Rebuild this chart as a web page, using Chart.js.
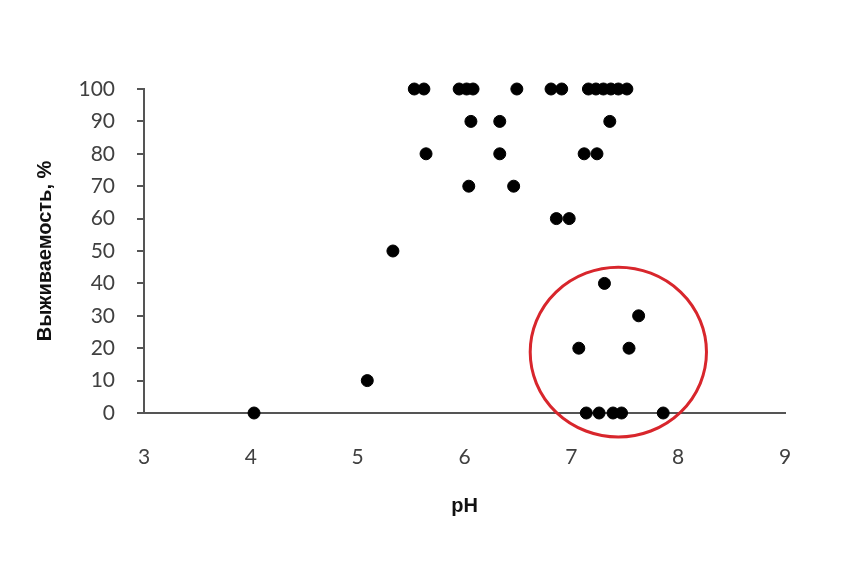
<!DOCTYPE html>
<html>
<head>
<meta charset="utf-8">
<script src="https://cdn.jsdelivr.net/npm/chart.js@4"></script>
<style>
  html, body { margin: 0; padding: 0; background: #fff; }
  #wrap { width: 844px; height: 565px; }
</style>
</head>
<body>
<div id="wrap"><canvas id="chart" width="844" height="565"></canvas></div>
<script>
// Data
const phValues = [
    5.53, 5.62, 5.95, 6.02, 6.08, 6.49, 6.81, 6.91, 7.16, 7.23, 7.30, 7.37, 7.44, 7.52,
    6.06, 6.33, 7.36,
    5.64, 6.33, 7.12, 7.24,
    6.04, 6.46,
    6.86, 6.98,
    5.33,
    7.31,
    7.63,
    7.07, 7.54,
    5.09,
    4.03, 7.14, 7.26, 7.39, 7.47, 7.86
];
const survival = [
    100, 100, 100, 100, 100, 100, 100, 100, 100, 100, 100, 100, 100, 100,
    90, 90, 90,
    80, 80, 80, 80,
    70, 70,
    60, 60,
    50,
    40,
    30,
    20, 20,
    10,
    0, 0, 0, 0, 0, 0
];
const xTicks = [3, 4, 5, 6, 7, 8, 9];
const yTicks = [0, 10, 20, 30, 40, 50, 60, 70, 80, 90, 100];

// red circle marking the group of low-survival points (data units)
const ringCenter = [7.44, 18.8];
const ringRadius = [0.825, 26.2];

const axisColor = '#555';

const ringPlugin = {
    id: 'ring',
    afterDatasetsDraw(chart) {
        const { ctx, scales: { x, y } } = chart;
        const cx = x.getPixelForValue(ringCenter[0]);
        const cy = y.getPixelForValue(ringCenter[1]);
        const rx = x.getPixelForValue(ringCenter[0] + ringRadius[0]) - cx;
        const ry = cy - y.getPixelForValue(ringCenter[1] + ringRadius[1]);
        ctx.save();
        ctx.beginPath();
        ctx.ellipse(cx, cy, rx, ry, 0, 0, Math.PI * 2);
        ctx.strokeStyle = '#d8262c';
        ctx.lineWidth = 3;
        ctx.stroke();
        ctx.restore();
    }
};

function startApp() {
    const points = phValues.map((v, i) => ({ x: v, y: survival[i] }));
    const ctx = document.getElementById('chart').getContext('2d');

    new Chart(ctx, {
        type: 'scatter',
        data: {
            datasets: [{
                data: points,
                backgroundColor: '#000',
                borderColor: '#000',
                pointRadius: 6,
                pointHoverRadius: 6,
                clip: false
            }]
        },
        options: {
            responsive: false,
            animation: false,
            events: [],
            layout: { padding: { left: 0, right: 59, top: 89, bottom: 0 } },
            plugins: { legend: { display: false }, tooltip: { enabled: false } },
            scales: {
                x: {
                    type: 'linear',
                    min: 3,
                    max: 9,
                    afterFit: s => { s.height = 152; },
                    afterBuildTicks: s => { s.ticks = xTicks.map(v => ({ value: v })); },
                    grid: { display: true, drawOnChartArea: false, drawTicks: false },
                    border: { display: true, color: axisColor, width: 2 },
                    ticks: {
                        padding: 32,
                        color: '#404040',
                        font: { family: 'Lato', size: 21 }
                    },
                    title: {
                        display: true,
                        text: 'pH',
                        color: '#111',
                        font: { family: 'Liberation Sans', size: 20, weight: 'bold' },
                        padding: { top: 0, bottom: 47 }
                    }
                },
                y: {
                    type: 'linear',
                    min: 0,
                    max: 100,
                    afterFit: s => { s.width = 144; },
                    afterBuildTicks: s => { s.ticks = yTicks.map(v => ({ value: v })); },
                    grid: {
                        display: true,
                        drawOnChartArea: false,
                        drawTicks: true,
                        tickLength: 7,
                        color: axisColor,
                        lineWidth: 2
                    },
                    border: { display: true, color: axisColor, width: 2 },
                    ticks: {
                        padding: 22,
                        color: '#404040',
                        font: { family: 'Lato', size: 21 }
                    },
                    title: {
                        display: true,
                        text: 'Выживаемость, %',
                        color: '#111',
                        font: { family: 'Liberation Sans', size: 20, weight: 'bold' },
                        padding: { top: 33, bottom: 0 }
                    }
                }
            }
        },
        plugins: [ringPlugin]
    });
}

window.onload = startApp;
</script>
</body>
</html>
